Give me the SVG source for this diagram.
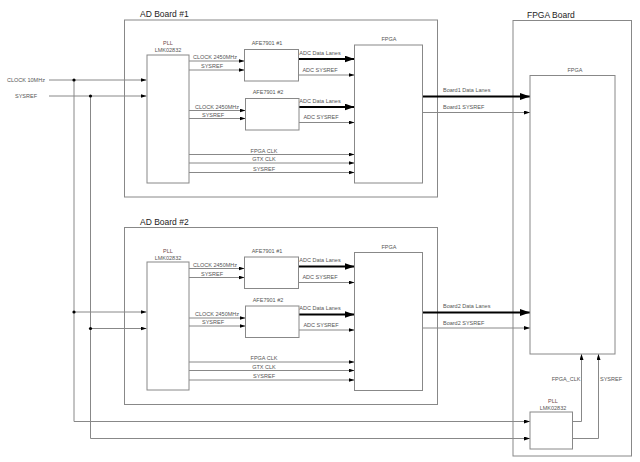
<svg xmlns="http://www.w3.org/2000/svg" width="640" height="462" viewBox="0 0 640 462">
<style>
text{font-family:"Liberation Sans",Arial,sans-serif;fill:#555;font-size:5.5px}
.t{font-size:8.5px;fill:#222}
.m{text-anchor:middle}
.p{fill:#704848}
.box{fill:#fff;stroke:#888;stroke-width:1}
.ln{fill:none;stroke:#888;stroke-width:1}
.th{fill:none;stroke:#000;stroke-width:2.2}
.dot{fill:#000}
</style>
<defs>
<marker id="a" markerUnits="userSpaceOnUse" markerWidth="6" markerHeight="4" refX="6" refY="2" orient="auto"><path d="M0,0L6,2L0,4z" fill="#000"/></marker>
<marker id="b" markerUnits="userSpaceOnUse" markerWidth="10" markerHeight="7" refX="10" refY="3.5" orient="auto"><path d="M0,0L10,3.5L0,7z" fill="#000"/></marker>
</defs>
<rect width="640" height="462" fill="#fff"/>

<g id="board1">
<rect class="box" x="124.5" y="20" width="313" height="177"/>
<text class="t" x="140" y="17">AD Board #1</text>
</g>
<g id="board2">
<rect class="box" x="124.5" y="227.5" width="313" height="177"/>
<text class="t" x="140" y="224.5">AD Board #2</text>
</g>
<g id="fpgaboard">
<rect class="box" x="513" y="20.5" width="118.5" height="435.5"/>
<text class="t" x="527" y="18">FPGA Board</text>
</g>

<g id="connectors">
<!-- inputs -->
<path class="ln" d="M49,80H146.5" marker-end="url(#a)"/>
<path class="ln" d="M49,96H146.5" marker-end="url(#a)"/>
<path class="ln" d="M74,80V421.5H530" marker-end="url(#a)"/>
<path class="ln" d="M90.5,96V438.5H530" marker-end="url(#a)"/>
<path class="ln" d="M74,312H146.5" marker-end="url(#a)"/>
<path class="ln" d="M90.5,328.5H146.5" marker-end="url(#a)"/>
<circle class="dot" cx="74" cy="80" r="1.6"/>
<circle class="dot" cx="90.5" cy="96" r="1.6"/>
<circle class="dot" cx="74" cy="312" r="1.6"/>
<circle class="dot" cx="90.5" cy="328.5" r="1.6"/>

<!-- board 1 -->
<path class="ln" d="M189,61H244.5" marker-end="url(#a)"/>
<path class="ln" d="M189,70H244.5" marker-end="url(#a)"/>
<path class="ln" d="M189,110.5H245.5" marker-end="url(#a)"/>
<path class="ln" d="M189,118.5H245.5" marker-end="url(#a)"/>
<path class="th" d="M298.5,59H354.5" marker-end="url(#b)"/>
<path class="ln" d="M298.5,75H354.5" marker-end="url(#a)"/>
<path class="th" d="M299,107H354.5" marker-end="url(#b)"/>
<path class="ln" d="M299,122.5H354.5" marker-end="url(#a)"/>
<path class="ln" d="M189,154.5H354.5" marker-end="url(#a)"/>
<path class="ln" d="M189,163H354.5" marker-end="url(#a)"/>
<path class="ln" d="M189,172.5H354.5" marker-end="url(#a)"/>
<path class="th" d="M422.5,96.5H530" marker-end="url(#b)"/>
<path class="ln" d="M422.5,112.5H530" marker-end="url(#a)"/>

<!-- board 2 -->
<path class="ln" d="M189,268.5H244.5" marker-end="url(#a)"/>
<path class="ln" d="M189,277.5H244.5" marker-end="url(#a)"/>
<path class="ln" d="M189,318H245.5" marker-end="url(#a)"/>
<path class="ln" d="M189,326H245.5" marker-end="url(#a)"/>
<path class="th" d="M298.5,266.5H354.5" marker-end="url(#b)"/>
<path class="ln" d="M298.5,282.5H354.5" marker-end="url(#a)"/>
<path class="th" d="M299,314.5H354.5" marker-end="url(#b)"/>
<path class="ln" d="M299,330H354.5" marker-end="url(#a)"/>
<path class="ln" d="M189,362H354.5" marker-end="url(#a)"/>
<path class="ln" d="M189,370.5H354.5" marker-end="url(#a)"/>
<path class="ln" d="M189,380H354.5" marker-end="url(#a)"/>
<path class="th" d="M422.5,312.5H530" marker-end="url(#b)"/>
<path class="ln" d="M422.5,328H530" marker-end="url(#a)"/>

<!-- fpga board -->
<path class="ln" d="M572.5,421.5H581.5V354" marker-end="url(#a)"/>
<path class="ln" d="M572.5,438.5H598.5V354" marker-end="url(#a)"/>

<!-- labels -->
<text x="7" y="82">CLOCK 10MHz</text>
<text x="15" y="98">SYSREF</text>
<text class="m" x="215" y="59">CLOCK 2450MHz</text>
<text class="m" x="212" y="68">SYSREF</text>
<text class="m" x="217" y="108.5">CLOCK 2450MHz</text>
<text class="m" x="213" y="116.5">SYSREF</text>
<text class="m" x="320" y="54.5">ADC Data Lanes</text>
<text class="m" x="320" y="71.5">ADC SYSREF</text>
<text class="m" x="320" y="102.5">ADC Data Lanes</text>
<text class="m" x="321" y="119">ADC SYSREF</text>
<text class="m" x="264" y="152.5">FPGA CLK</text>
<text class="m" x="264" y="161">GTX CLK</text>
<text class="m" x="264" y="170.5">SYSREF</text>
<text x="443" y="92">Board1 Data Lanes</text>
<text x="443" y="108.5">Board1 SYSREF</text>

<text class="m" x="215" y="266.5">CLOCK 2450MHz</text>
<text class="m" x="212" y="275.5">SYSREF</text>
<text class="m" x="217" y="315.5">CLOCK 2450MHz</text>
<text class="m" x="213" y="324">SYSREF</text>
<text class="m" x="320" y="262">ADC Data Lanes</text>
<text class="m" x="320" y="279">ADC SYSREF</text>
<text class="m" x="320" y="310">ADC Data Lanes</text>
<text class="m" x="321" y="326.5">ADC SYSREF</text>
<text class="m" x="264" y="360">FPGA CLK</text>
<text class="m" x="264" y="368.5">GTX CLK</text>
<text class="m" x="264" y="378">SYSREF</text>
<text x="443" y="308">Board2 Data Lanes</text>
<text x="443" y="324.5">Board2 SYSREF</text>

<text class="m" x="566" y="381">FPGA_CLK</text>
<text class="m" x="611" y="381">SYSREF</text>
</g>

<g id="pll1">
<rect class="box" x="147" y="55" width="42" height="128"/>
<text class="m p" x="168" y="45">PLL</text>
<text class="m" x="168" y="52">LMK02832</text>
</g>
<g id="afe1_1">
<rect class="box" x="244.5" y="49.5" width="54" height="31.5"/>
<text class="m" x="267" y="45">AFE7901 #1</text>
</g>
<g id="afe1_2">
<rect class="box" x="245.5" y="98.5" width="53.5" height="31.5"/>
<text class="m" x="268" y="94">AFE7901 #2</text>
</g>
<g id="fpga1">
<rect class="box" x="354.5" y="45" width="68" height="138"/>
<text class="m" x="389" y="41">FPGA</text>
</g>

<g id="pll2">
<rect class="box" x="147" y="262" width="42" height="128"/>
<text class="m p" x="168" y="252.5">PLL</text>
<text class="m" x="168" y="259.5">LMK02832</text>
</g>
<g id="afe2_1">
<rect class="box" x="244.5" y="257" width="54" height="31.5"/>
<text class="m" x="267" y="252.5">AFE7901 #1</text>
</g>
<g id="afe2_2">
<rect class="box" x="245.5" y="306" width="53.5" height="31.5"/>
<text class="m" x="268" y="301.5">AFE7901 #2</text>
</g>
<g id="fpga2">
<rect class="box" x="354.5" y="252.5" width="68" height="138"/>
<text class="m" x="389" y="248.5">FPGA</text>
</g>

<g id="fpga_main">
<rect class="box" x="530" y="75.5" width="85" height="278.5"/>
<text class="m" x="575" y="71.5">FPGA</text>
</g>
<g id="pll_fpga">
<rect class="box" x="530" y="412" width="42.5" height="37"/>
<text class="m p" x="553" y="402.5">PLL</text>
<text class="m" x="553" y="409.5">LMK02832</text>
</g>
</svg>
